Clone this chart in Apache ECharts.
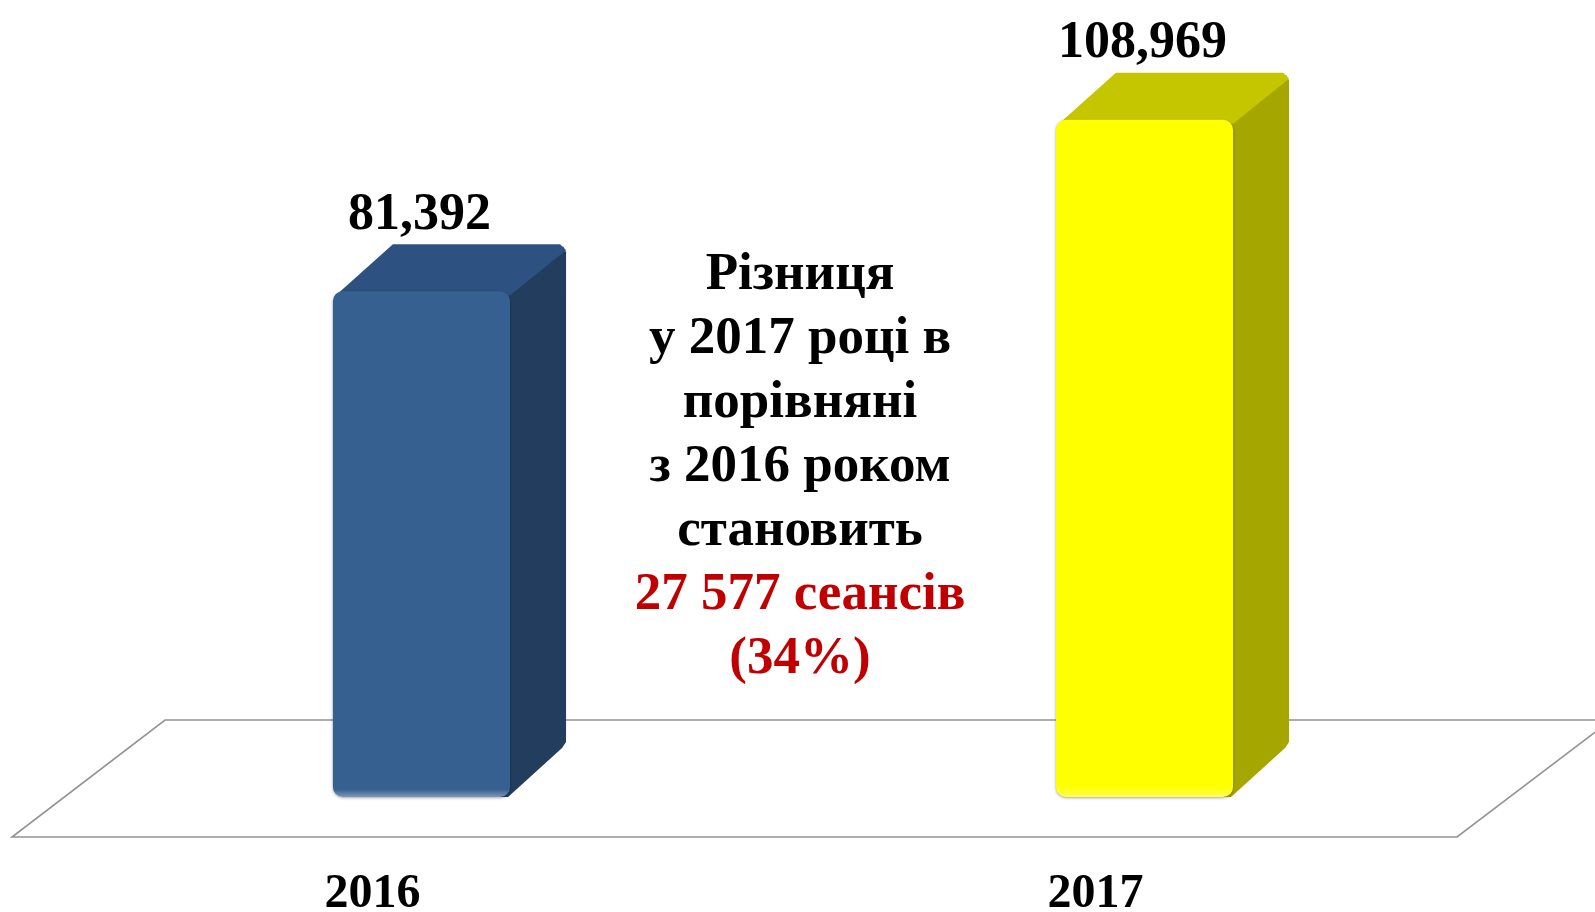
<!DOCTYPE html>
<html>
<head>
<meta charset="utf-8">
<title>Сеанси 2016-2017</title>
<script src="https://cdn.jsdelivr.net/npm/echarts@6/dist/echarts.min.js"></script>
<style>
  html, body { margin: 0; padding: 0; background: #fff; }
  #chart { width: 1595px; height: 912px; }
</style>
</head>
<body>
<div id="chart"></div>
<script>
// дані
var years = ['2016', '2017'];
var sessions = [81392, 108969];

// кольори граней: фронт, верх, бік
var faceColors = [
  ['#36608f', '#2d5282', '#233d5f'],
  ['#ffff00', '#c6c600', '#a6a600']
];

var serif = "'Liberation Serif', 'Times New Roman', serif";

var chart = echarts.init(document.getElementById('chart'));

function withComma(v) {
  return String(v).replace(/\B(?=(\d{3})+(?!\d))/g, ',');
}
function withSpace(v) {
  return String(v).replace(/\B(?=(\d{3})+(?!\d))/g, ' ');
}

var diff = sessions[1] - sessions[0];
var pct = Math.round(diff / sessions[0] * 100);

var bars = sessions.map(function (v, i) { return [i, v]; });

var option = {
  backgroundColor: '#fff',
  animation: false,
  grid: {
    left: 60,
    right: 89,
    top: 45,
    bottom: 115,
    containLabel: false,
    outerBoundsMode: 'none'
  },
  xAxis: {
    type: 'category',
    data: years,
    axisLine: { show: false },
    axisTick: { show: false },
    axisLabel: {
      margin: 74,
      fontSize: 48,
      fontWeight: 'bold',
      fontFamily: serif,
      color: '#000',
      padding: [0, 98, 0, 0]
    }
  },
  yAxis: {
    type: 'value',
    min: 0,
    max: 121000,
    show: false,
    splitLine: { show: false }
  },
  graphic: [{
    type: 'text',
    x: 800,
    y: 243,
    style: {
      text: '{b|Різниця}\n{b|у 2017 році в}\n{b|порівняні}\n{b|з 2016 роком}\n{b|становить}\n' +
            '{r|' + withSpace(diff) + ' сеансів}\n{r|(' + pct + '%)}',
      align: 'center',
      verticalAlign: 'top',
      font: 'bold 53px ' + serif,
      rich: {
        b: { fontSize: 53, fontWeight: 'bold', fontFamily: serif, fill: '#000', lineHeight: 64 },
        r: { fontSize: 53, fontWeight: 'bold', fontFamily: serif, fill: '#c00000', lineHeight: 64 }
      }
    }
  }],
  series: [
    {
      // підлога
      type: 'custom',
      z: 1,
      silent: true,
      data: [[0, 0]],
      renderItem: function (params, api) {
        var cs = params.coordSys;
        var bottom = cs.y + cs.height;
        var fy = bottom + 40, by = bottom - 77;
        return {
          type: 'polygon',
          shape: {
            points: [
              [cs.x - 48, fy],
              [cs.x + cs.width - 49, fy],
              [cs.x + cs.width + 105, by],
              [cs.x + 105, by]
            ]
          },
          style: { fill: 'none', stroke: '#939393', lineWidth: 1.6 }
        };
      }
    },
    {
      // об'ємні стовпчики
      type: 'custom',
      z: 2,
      data: bars,
      renderItem: function (params, api) {
        var i = api.value(0);
        var top = api.coord([i, api.value(1)]);
        var base = api.coord([i, 0]);
        var band = api.size([1, 0])[0];
        var w = band * 0.245;
        var dx = w * 0.316, dy = w * 0.265;
        var x0 = top[0] - w / 2, x1 = top[0] + w / 2;
        var yT = top[1], yB = base[1];
        var c = faceColors[i % faceColors.length];
        return {
          type: 'group',
          children: [
            {
              type: 'polygon',
              shape: { points: [[x1 - 10, yT + 2], [x1 + dx - 3, yT - dy + 2], [x1 + dx, yT - dy + 8], [x1 + dx, yB - dy - 8], [x1 + dx - 4, yB - dy - 2], [x1 - 2, yB], [x1 - 10, yB]] },
              style: { fill: c[2] }
            },
            {
              type: 'polygon',
              shape: { points: [[x0 + 3, yT + 4], [x0 + dx + 4, yT - dy], [x1 + dx - 6, yT - dy], [x1 + dx, yT - dy + 6], [x1, yT + 4]] },
              style: { fill: c[1] }
            },
            {
              type: 'rect',
              shape: { x: x0, y: yT, width: w, height: yB - yT, r: 10 },
              style: {
                fill: new echarts.graphic.LinearGradient(0, 0, 0, 1, [
                  { offset: 0, color: c[0] },
                  { offset: 0.985, color: c[0] },
                  { offset: 1, color: echarts.color.lift(c[0], 0.35) }
                ]),
                shadowBlur: 3,
                shadowColor: 'rgba(0,0,0,0.35)',
                shadowOffsetY: 1
              }
            },
            {
              type: 'text',
              x: top[0] - 2,
              y: yT - 76,
              style: {
                text: withComma(api.value(1)),
                align: 'center',
                verticalAlign: 'middle',
                font: 'bold 52px ' + serif,
                fill: '#000'
              }
            }
          ]
        };
      }
    }
  ]
};

chart.setOption(option);
</script>
</body>
</html>
